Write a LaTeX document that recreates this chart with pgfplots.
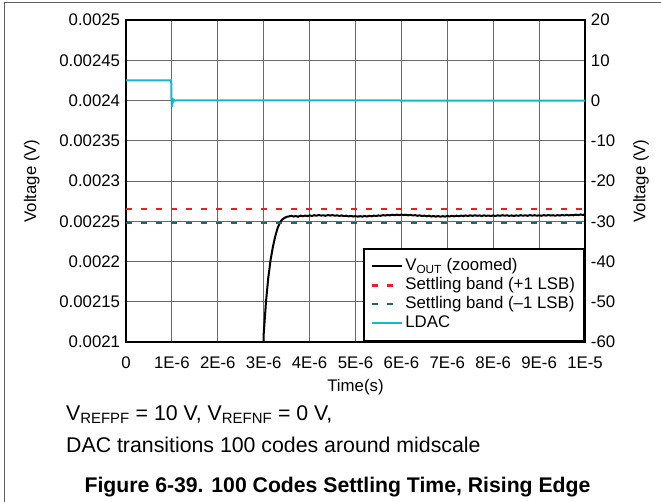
\documentclass[border=0pt]{standalone}
\usepackage{pgfplots}
\pgfplotsset{compat=1.18}
\usepackage{pgfplotstable}
\usepackage{fontspec}
\setmainfont{Liberation Sans}
\setsansfont{Liberation Sans}
\definecolor{ldac}{RGB}{24,183,200}
\definecolor{bandneg}{RGB}{38,98,114}
\definecolor{bandpos}{RGB}{235,30,35}
\definecolor{gridc}{RGB}{105,105,105}
\newcommand{\tf}{\fontsize{16.8bp}{20bp}\selectfont}

\pgfplotstableread{
t v
2.96e-6 0.00190
3.00e-6 0.002110
3.05e-6 0.002150
3.10e-6 0.002180
3.15e-6 0.002202
3.20e-6 0.002218
3.25e-6 0.002231
3.30e-6 0.002241
3.35e-6 0.002248
3.40e-6 0.002252
3.45e-6 0.002254
3.50e-6 0.0022555
3.55e-6 0.0022560
3.60e-6 0.0022568
3.65e-6 0.0022559
3.70e-6 0.0022565
3.75e-6 0.0022556
3.80e-6 0.0022569
3.85e-6 0.0022562
3.90e-6 0.0022570
3.95e-6 0.0022564
4.00e-6 0.0022573
4.05e-6 0.0022566
4.10e-6 0.0022575
4.15e-6 0.0022569
4.20e-6 0.0022578
4.25e-6 0.0022570
4.30e-6 0.0022574
4.35e-6 0.0022568
4.40e-6 0.0022577
4.45e-6 0.0022571
4.50e-6 0.0022576
4.55e-6 0.0022569
4.60e-6 0.0022573
4.65e-6 0.0022566
4.70e-6 0.0022572
4.75e-6 0.0022564
4.80e-6 0.0022569
4.85e-6 0.0022561
4.90e-6 0.0022566
4.95e-6 0.0022559
5.00e-6 0.0022564
5.05e-6 0.0022557
5.10e-6 0.0022563
5.15e-6 0.0022558
5.20e-6 0.0022565
5.25e-6 0.0022559
5.30e-6 0.0022567
5.35e-6 0.0022562
5.40e-6 0.0022570
5.45e-6 0.0022565
5.50e-6 0.0022572
5.55e-6 0.0022568
5.60e-6 0.0022576
5.65e-6 0.0022571
5.70e-6 0.0022578
5.75e-6 0.0022573
5.80e-6 0.0022581
5.85e-6 0.0022575
5.90e-6 0.0022582
5.95e-6 0.0022576
6.00e-6 0.0022583
6.05e-6 0.0022577
6.10e-6 0.0022581
6.15e-6 0.0022574
6.20e-6 0.0022579
6.25e-6 0.0022572
6.30e-6 0.0022576
6.35e-6 0.0022568
6.40e-6 0.0022573
6.45e-6 0.0022565
6.50e-6 0.0022570
6.55e-6 0.0022562
6.60e-6 0.0022568
6.65e-6 0.0022559
6.70e-6 0.0022565
6.75e-6 0.0022558
6.80e-6 0.0022564
6.85e-6 0.0022557
6.90e-6 0.0022563
6.95e-6 0.0022558
7.00e-6 0.0022565
7.05e-6 0.0022560
7.10e-6 0.0022567
7.15e-6 0.0022561
7.20e-6 0.0022569
7.25e-6 0.0022563
7.30e-6 0.0022570
7.35e-6 0.0022565
7.40e-6 0.0022572
7.45e-6 0.0022566
7.50e-6 0.0022573
7.55e-6 0.0022567
7.60e-6 0.0022574
7.65e-6 0.0022568
7.70e-6 0.0022572
7.75e-6 0.0022566
7.80e-6 0.0022573
7.85e-6 0.0022567
7.90e-6 0.0022571
7.95e-6 0.0022565
8.00e-6 0.0022572
8.05e-6 0.0022566
8.10e-6 0.0022573
8.15e-6 0.0022568
8.20e-6 0.0022575
8.25e-6 0.0022569
8.30e-6 0.0022574
8.35e-6 0.0022567
8.40e-6 0.0022572
8.45e-6 0.0022566
8.50e-6 0.0022573
8.55e-6 0.0022568
8.60e-6 0.0022575
8.65e-6 0.0022569
8.70e-6 0.0022574
8.75e-6 0.0022568
8.80e-6 0.0022576
8.85e-6 0.0022570
8.90e-6 0.0022575
8.95e-6 0.0022569
9.00e-6 0.0022574
9.05e-6 0.0022568
9.10e-6 0.0022576
9.15e-6 0.0022570
9.20e-6 0.0022577
9.25e-6 0.0022571
9.30e-6 0.0022575
9.35e-6 0.0022569
9.40e-6 0.0022576
9.45e-6 0.0022571
9.50e-6 0.0022578
9.55e-6 0.0022572
9.60e-6 0.0022579
9.65e-6 0.0022573
9.70e-6 0.0022578
9.75e-6 0.0022574
9.80e-6 0.0022582
9.85e-6 0.0022576
9.90e-6 0.0022584
9.95e-6 0.0022579
10.0e-6 0.0022583
}\voutdata

\pgfplotstableread{
t v
0 5
0.985e-6 5
0.99e-6 0.5
1.00e-6 -1.6
1.01e-6 0.6
1.02e-6 -0.4
1.04e-6 0.2
1.07e-6 0
3.0e-6 0.05
6.0e-6 0
10.0e-6 0
}\ldacdata

\begin{document}
\begin{tikzpicture}
\useasboundingbox (0,0) rectangle (661bp,-502bp);
\draw[gray!75!black, line width=1bp] (4bp,-502bp) -- (4bp,-2bp) -- (661bp,-2bp);

\begin{axis}[
  at={(126bp,-342bp)}, anchor=south west,
  scale only axis, width=459bp, height=322bp,
  xmin=0, xmax=1e-5, ymin=0.0021, ymax=0.0025,
  xtick={0,1e-6,2e-6,3e-6,4e-6,5e-6,6e-6,7e-6,8e-6,9e-6,1e-5},
  xticklabels={0,1E-6,2E-6,3E-6,4E-6,5E-6,6E-6,7E-6,8E-6,9E-6,1E-5},
  ytick={0.0021,0.00215,0.0022,0.00225,0.0023,0.00235,0.0024,0.00245,0.0025},
  yticklabels={0.0021,0.00215,0.0022,0.00225,0.0023,0.00235,0.0024,0.00245,0.0025},
  scaled x ticks=false, scaled y ticks=false,
  grid=major,
  major grid style={draw=gridc, line width=0.9bp},
  axis line style={line width=2.2bp},
  major tick length=0pt,
  ticklabel style={font=\tf},
  xticklabel style={yshift=-11bp},
  yticklabel style={xshift=-2.4bp},
  xlabel={Time(s)}, ylabel={Voltage (V)},
  label style={font=\tf},
  xlabel style={at={(axis description cs:0.5,-0.14)}, anchor=center},
  ylabel style={at={(axis description cs:-0.205,0.5)}, anchor=center},
  legend cell align=left,
  legend image code/.code={\draw[#1] (0bp,0bp) -- (30bp,0bp);},
  legend style={at={(1,0)}, anchor=south east, draw=black, line width=2.2bp,
    fill=white, font=\tf, inner xsep=7bp, inner ysep=9.5bp, row sep=2.4bp,
    nodes={inner xsep=2bp, inner ysep=0bp, text height=12.5bp, text depth=4bp},
    /tikz/every even column/.append style={column sep=7bp}},
]
\addplot[black, line width=2bp] table[x=t,y=v] {\voutdata};
\addlegendentry{V\textsubscript{OUT} (zoomed)}
\addplot[bandpos, line width=2.3bp, dash pattern=on 5.5bp off 9.5bp] coordinates {(0,0.0022648) (1e-5,0.0022648)};
\addlegendentry{Settling band (+1 LSB)}
\addplot[bandneg, line width=2.3bp, dash pattern=on 5.5bp off 9.5bp] coordinates {(0,0.0022475) (1e-5,0.0022475)};
\addlegendentry{Settling band (--1 LSB)}
\addlegendimage{ldac, line width=2bp}
\addlegendentry{LDAC}
\end{axis}

\begin{axis}[
  at={(126bp,-342bp)}, anchor=south west,
  scale only axis, width=459bp, height=322bp,
  xmin=0, xmax=1e-5, ymin=-60, ymax=20,
  axis x line=none, axis y line*=right,
  ytick={-60,-50,-40,-30,-20,-10,0,10,20},
  yticklabels={-60,-50,-40,-30,-20,-10,0,10,20},
  axis line style={line width=2.2bp},
  major tick length=0pt,
  ticklabel style={font=\tf},
  yticklabel style={xshift=2.4bp},
  ylabel={Voltage (V)},
  label style={font=\tf},
  ylabel style={at={(axis description cs:1.122,0.5)}, anchor=center},
]
\addplot[ldac, line width=2bp] table[x=t,y=v] {\ldacdata};
\end{axis}

\node[anchor=base west, font=\fontsize{21.3bp}{25bp}\selectfont, inner sep=0pt] at (66bp,-420bp) {V\textsubscript{REFPF} = 10 V, V\textsubscript{REFNF} = 0 V,};
\node[anchor=base west, font=\fontsize{21.3bp}{25bp}\selectfont, inner sep=0pt] at (66bp,-452bp) {DAC transitions 100 codes around midscale};
\node[anchor=base, font=\fontsize{21.2bp}{25bp}\selectfont\bfseries, inner sep=0pt] at (337.5bp,-492bp) {Figure 6-39. 100 Codes Settling Time, Rising Edge};
\end{tikzpicture}
\end{document}
